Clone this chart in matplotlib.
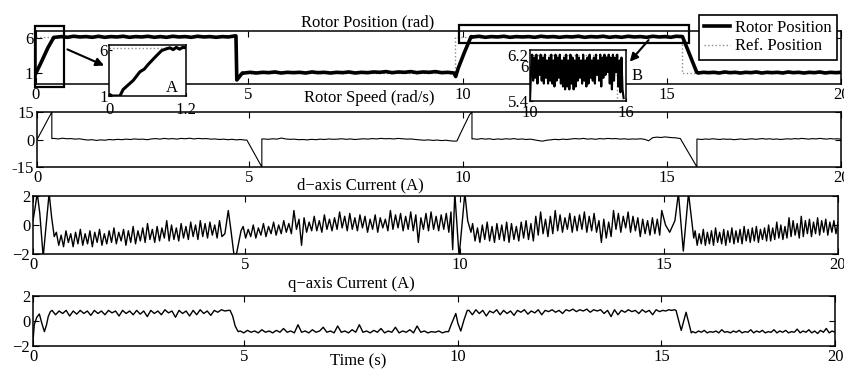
"""Drive test record: rotor position, rotor speed and d/q-axis currents over 20 s."""
import matplotlib.pyplot as plt
import numpy as np

# ---------------------------------------------------------------- data
# Values. Noisy stretches are listed left to right
# and taken as evenly spaced in time between their start and end instants.

# rotor position (rad)
POS_RISE_T = [0.0, 0.12, 0.28, 0.42]
POS_RISE_V = [1.0, 2.5, 4.6, 6.1]
POS_HIGH_1 = [6.1, 6.2, 6.1, 6.25, 6.15, 6.2, 6.1, 6.25, 6.1, 6.2, 6.15, 6.25, 6.1, 6.2, 6.15,
              6.25, 6.1, 6.2, 6.1, 6.25, 6.15, 6.2, 6.1, 6.25, 6.15, 6.2, 6.1, 6.2, 6.15, 6.3]
POS_DROP_T = [4.71, 4.73, 4.86]
POS_DROP_V = [6.3, 0.0, 1.0]
POS_LOW_1 = [1.0, 1.1, 1.0, 1.1, 1.05, 1.15, 1.0, 1.1, 1.05, 1.1, 1.0, 1.15, 1.05, 1.1, 1.0, 1.1,
             1.05, 1.15, 1.0, 1.1, 1.05, 1.15, 1.1, 1.2, 1.05, 1.15, 1.1, 1.2, 1.05, 1.15, 1.1,
             1.2, 1.05, 1.1, 1.0]
POS_UP_T = [9.84, 9.9, 10.05, 10.21]
POS_UP_V = [0.5, 1.7, 4.0, 6.2]
POS_HIGH_2 = [6.15, 6.25, 6.1, 6.2, 6.15, 6.25, 6.1, 6.2, 6.15, 6.2, 6.1, 6.25, 6.15, 6.2, 6.1,
              6.2, 6.15, 6.25, 6.1, 6.2, 6.15, 6.25, 6.1, 6.2, 6.1, 6.25, 6.15, 6.2, 6.1, 6.25,
              6.15, 6.2, 6.1, 6.25, 6.2]
POS_DOWN_T = [15.45, 15.86]
POS_DOWN_V = [6.2, 1.1]
POS_LOW_2 = [1.0, 1.1, 1.05, 1.1, 1.0, 1.15, 1.05, 1.1, 1.0, 1.1, 1.05, 1.15, 1.0, 1.1, 1.05,
             1.1, 1.0, 1.15, 1.05, 1.1, 1.0, 1.1, 1.05, 1.15, 1.0, 1.1, 1.05, 1.1]

# reference position (rad)
REF_T = [0, 4.71, 4.71, 9.83, 9.83, 15.44, 15.44, 20]
REF_V = [6.2, 6.2, 1.0, 1.0, 6.2, 6.2, 1.0, 1.0]

# zoom A: start-up, 0 - 1.2 s
ZOOM_A_T = [0.0, 0.05, 0.17, 0.22, 0.3, 0.38, 0.48, 0.55, 0.61, 0.72, 0.82, 0.9, 0.95, 1.0,
            1.05, 1.1, 1.15, 1.2]
ZOOM_A_V = [1.2, 1.0, 1.0, 1.7, 2.2, 2.7, 3.6, 3.9, 4.4, 5.2, 5.9, 6.1, 6.2, 6.0, 6.25, 6.05,
            6.25, 6.2]
# zoom B: position ripple, 10 - 15.85 s
ZOOM_B = [5.4, 5.9, 6.2, 5.75, 6.15, 5.8, 6.2, 5.7, 6.1, 5.85, 6.2, 5.75, 6.15, 5.7, 6.2, 5.8,
          6.1, 5.7, 6.15, 5.75,
          6.2, 5.7, 6.1, 5.65, 6.2, 5.75, 6.15, 5.8, 6.2, 5.7, 6.1, 5.65, 6.15, 5.6, 6.2, 5.65,
          6.1, 5.6, 6.2, 5.7,
          6.15, 5.6, 6.1, 5.65, 6.2, 5.75, 6.15, 5.8, 6.1, 5.7, 6.2, 5.75, 6.1, 5.65, 6.15, 5.7,
          6.2, 5.8, 6.1, 5.75,
          6.15, 5.7, 6.2, 5.85, 6.1, 5.75, 6.2, 5.65, 6.15, 5.8, 6.2, 5.85, 6.15, 5.9, 6.2, 5.7,
          6.15, 5.6, 6.2, 5.75,
          6.15, 5.9, 6.2, 5.65, 6.1, 5.55, 6.15, 5.6, 5.45]

# rotor speed (rad/s)
SPD_RISE_T = [0.0, 0.03, 0.35, 0.35]
SPD_RISE_V = [0.0, 1.2, 15.0, 0.5]
SPD_FLAT_1 = [0.6, 0.3, 0.7, 0.4, 0.5, 0.2, 0.4, 0.0, -0.3, -0.1, -0.5, -0.2, -0.4, 0.0, -0.2,
              0.1, -0.1, 0.2, 0.0, 0.3, 0.1, 0.2, -0.1, 0.3, 0.5, 0.2, 0.6, 0.3, 0.5, 0.2, 0.6,
              0.4, 0.7, 0.3, 0.6, 0.4, 0.5, 0.2, 0.3, 0.0, 0.2, -0.1, 0.1, -0.2, 0.0, -0.3]
SPD_DROP_T = [4.95, 5.3, 5.3]
SPD_DROP_V = [-0.3, -15.0, 0.3]
SPD_FLAT_2 = [0.3, 0.1, 0.4, 0.2, 0.8, 0.3, 0.1, 0.2, -0.1, 0.0, -0.2, 0.1, -0.1, 0.2, 0.0, 0.3,
              0.1, 0.2, 0.4, 0.1, 0.3, 0.0, 0.2, 0.4, 0.2, 0.5, 0.3, 0.6, 0.4, 0.5, 0.3, 0.6, 0.4,
              0.2, 0.3, 0.0, -0.2, -0.4, -0.2, -0.5, -0.3, -0.6, -0.4, -0.7, -0.9]
SPD_UP_T = [9.86, 9.93, 10.16, 10.22, 10.22]
SPD_UP_V = [-0.8, 2.8, 13.5, 15.0, 0.3]
SPD_FLAT_3 = [0.4, 0.1, 0.5, 0.2, 0.4, 0.0, 0.3, 0.1, 0.4, 0.2, 0.5, 0.1, 0.3, 0.0, 0.2, -0.2,
              -0.6, -0.9, -0.4, -0.2, 0.1, -0.1, 0.2, 0.0, 0.3, 0.5, 0.3, 0.6, 0.2, 0.4, 0.1, 0.5,
              0.3, 0.6, 0.4, 0.5, 0.2, 0.4, 0.1, 0.3, 0.2, 0.4, 0.1, -0.7, 1.0, 1.3, 1.1, 1.4,
              1.2, 1.0, 0.9, 0.6]
SPD_DOWN_T = [15.38, 15.86, 15.86]
SPD_DOWN_V = [0.6, -15.0, 0.2]
SPD_FLAT_4 = [0.2, 0.0, 0.3, 0.1, 0.4, 0.2, 0.0, 0.3, 0.1, 0.2, -0.1, 0.1, 0.3, 0.0, 0.2, 0.4,
              0.1, 0.3, 0.5, 0.2, 0.4, 0.1, 0.3, 0.0, 0.2, 0.4, 0.2, 0.5, 0.3, 0.6, 0.4, 0.2, 0.5,
              0.3, 0.6, 0.4, 0.2, 0.5, 0.3, 0.4, 0.2]

# d-axis current (A)
ID_START_T = [0.0, 0.05, 0.1, 0.16, 0.24, 0.31, 0.38, 0.44, 0.5]
ID_START_V = [0.3, 1.2, 2.2, 0.8, -2.2, 0.0, 2.2, 0.5, -0.8]
ID_BAND_1 = [-0.5, -1.4, -0.7, -1.5, -0.4, -1.2, -0.6, -1.5, -0.5, -1.3, -0.3, -1.4,
             -0.6, -1.3, -0.4, -1.5, -0.5, -1.2, -0.3, -1.4, -0.6, -1.3, -0.4, -1.2,
             -0.2, -1.3, -0.5, -1.1, -0.3, -1.4, -0.4, -1.2, -0.1, -1.3, -0.4, -1.1,
             -0.2, -1.2, 0.1, -1.0, -0.3, -1.2, -0.1, -1.1, -0.2, -0.9, 0.3, -1.1,
             0.0, -1.0, -0.2, -1.1, 0.1, -0.9, -0.1, -1.0, 0.2, -0.8, 0.0, -1.0,
             0.3, -0.8, 0.1, -0.9, 0.2, -0.7, 0.0, -0.9, 0.3, -0.8]
ID_EDGE_1_T = [4.52, 4.6, 4.66, 4.74, 4.8, 4.9]
ID_EDGE_1_V = [-0.6, 1.0, -0.3, -2.2, -1.9, -0.4]
ID_BAND_2 = [-0.1, -0.9, -0.3, -0.8, 0.0, -0.9, -0.2, -0.7, 0.1, -0.8, -0.1, -0.6,
             0.2, -0.7, 0.0, -0.6, 0.3, -0.5, 0.1, -0.6, 1.0, -0.3, 0.4, -1.4,
             0.5, -0.5, 0.2, -0.4, 0.6, -0.4, 0.3, -0.5, 0.7, -0.3, 0.4, -0.4,
             0.5, -0.3, 0.9, -0.2, 0.6, -0.4, 0.8, -0.3, 0.5, -0.4, 0.7, -0.2,
             0.6, -0.5, 0.4, -0.3, 0.7, -0.5, 0.5, -0.2, 0.4, -0.4, 1.0, -0.3,
             0.7, -0.2, 0.8, -0.4, 0.6, -0.3, 0.9, -0.4, 0.7, -1.2, 0.5, -0.3,
             0.8, -0.4, 0.9, -0.3, 0.6, -0.4, 0.7, -0.3, 0.8, -0.5]
ID_EDGE_2_T = [9.8, 9.84, 9.89, 9.99, 10.13, 10.2, 10.28]
ID_EDGE_2_V = [0.9, -1.7, 2.2, -2.2, 2.2, 0.3, -0.5]
ID_BAND_3 = [0.1, -1.1, -0.2, -1.2, 0.0, -1.0, 0.2, -1.1, -0.1, -1.2, 0.1, -1.0,
             0.0, -1.1, 0.2, -1.2, 0.1, -1.0, -0.1, -1.1, 0.2, -0.9, 0.3, -1.0,
             0.1, -1.1, 0.6, -0.7, 0.9, -0.6, 0.4, -0.8, 0.6, -0.6, 1.0, -0.4,
             0.7, -0.5, 0.5, -0.3, 0.8, -0.5, 0.6, -0.4, 0.7, -0.3, 0.9, -0.5,
             0.6, -0.4, 0.8, -0.5, 0.3, -1.2, 0.4, -0.9, 0.2, -0.8, 1.0, -0.3,
             0.8, -0.5, 0.6, -0.2, 0.9, -0.5, 0.6, -0.4, 0.5, -0.8, 0.4, -0.6,
             0.3, -0.7, 0.5, -0.6, 0.4, -0.7]
ID_EDGE_3_T = [14.95, 15.05, 15.17, 15.32, 15.42, 15.56, 15.71, 15.86]
ID_EDGE_3_V = [1.0, 0.0, -0.5, 0.3, 2.2, -1.8, 2.2, -0.9]
ID_BAND_4 = [-0.4, -1.4, -0.6, -1.3, -0.3, -1.4, -0.5, -1.3, -0.4, -1.4, -0.2, -1.2,
             -0.5, -1.3, -0.3, -1.4, -0.4, -1.2, -0.2, -1.3, -0.4, -1.2, -0.3, -1.3,
             -0.1, -1.1, -0.3, -1.2, -0.2, -1.1, -0.1, -1.2, -0.3, -1.0, -0.2, -1.1,
             0.0, -1.1, -0.2, -1.0, 0.2, -0.9, 0.0, -1.0, -0.1, -0.9, 0.5, -0.8,
             0.3, -0.7, 0.1, -0.9, 0.6, -0.8, 0.3, -0.6, 0.4, -0.8, 0.2, -0.6,
             0.5, -0.7, 0.3, -0.5, 0.4, -0.7, 0.2, -0.5, 0.3, -0.6, 0.2]

# q-axis current (A)
IQ_START_T = [0.0, 0.03, 0.09, 0.15, 0.21, 0.27, 0.32, 0.36, 0.41]
IQ_START_V = [-1.65, -0.3, 0.3, 0.56, -0.2, -0.85, -0.3, 0.35, 0.75]
IQ_HIGH_1 = [0.85, 0.5, 0.8, 0.6, 0.85, 0.4, 0.8, 0.55, 0.85, 0.6, 0.8, 0.45, 0.85,
             0.6, 0.8, 0.5, 0.85, 0.65, 0.8, 0.4, 0.85, 0.6, 0.8, 0.5, 0.85,
             0.55, 0.8, 0.35, 0.85, 0.6, 0.8, 0.5, 0.9, 0.65, 0.8, 0.3, 0.85,
             0.6, 0.8, 0.4, 0.85, 0.5, 0.9, 0.6, 0.8, 0.45, 0.85, 0.7, 0.9, 0.8, 0.85]
IQ_DROP_T = [4.66, 4.72, 4.78, 4.85]
IQ_DROP_V = [0.85, 0.4, -0.4, -0.85]
IQ_LOW_1 = [-0.8, -0.95, -0.75, -0.9, -0.8, -0.95, -0.7, -0.9, -0.8, -0.95, -0.75, -0.9, -0.6, -0.9,
            -0.8, -0.95, -0.3, -0.9, -0.8, -0.95, -0.7, -0.9, -0.8, -0.5, -0.9, -0.8,
            -0.95, -0.4, -0.9, -0.8, -0.95, -0.7, -0.9, -0.3, -0.9, -0.8, -0.95, -0.75,
            -0.9, -0.6, -0.95, -0.8, -0.9, -0.5, -0.95, -0.8, -0.9, -0.7, -0.95, -0.4,
            -0.9, -0.8, -0.95, -0.85, -0.9, -0.8, -0.95, -0.85]
IQ_RISE_T = [9.78, 9.84, 9.9, 9.95, 10.0, 10.07, 10.15, 10.23]
IQ_RISE_V = [-0.85, -0.3, 0.2, 0.6, -0.2, -0.8, 0.1, 0.85]
IQ_HIGH_2 = [0.85, 0.5, 0.9, 0.6, 0.85, 0.4, 0.8, 0.65, 0.9, 0.5, 0.85, 0.6, 0.8,
             0.45, 0.85, 0.7, 0.9, 0.55, 0.8, 0.65, 0.9, 0.5, 0.85, 0.75, 0.9,
             0.7, 0.85, 0.6, 0.9, 0.8, 0.95, 0.75, 0.9, 0.8, 0.95, 0.7, 0.9,
             0.8, 0.9, 0.6, 0.85, 0.35, 0.9, 0.5, 0.85, 0.7, 0.9, 0.75, 0.85,
             0.6, 0.9, 0.7, 0.85, 0.5, 0.9, 0.75, 0.85, 0.8, 0.9, 0.85, 0.9]
IQ_FALL_T = [15.42, 15.57, 15.71, 15.86]
IQ_FALL_V = [0.85, -0.75, 0.7, -0.95]
IQ_LOW_2 = [-0.85, -0.95, -0.8, -0.9, -0.75, -0.95, -0.85, -0.9, -0.8, -0.95, -0.7, -0.9, -0.85, -0.95,
            -0.8, -0.9, -0.75, -0.95, -0.85, -0.9, -0.7, -0.95, -0.8, -0.9, -0.75, -0.95,
            -0.85, -0.9, -0.7, -0.95, -0.8, -0.9, -0.75, -0.95, -0.85, -0.9, -0.65, -0.95,
            -0.8, -0.9, -0.7, -0.95, -0.8, -1.0, -0.75, -0.9, -0.6, -0.95, -0.8, -0.9]

TIME_TICKS = [0, 5, 10, 15, 20]
# the time axis of the source figure is not evenly spaced: pixel offsets of its ticks
TIME_TICK_PX = [0, 212, 426, 630, 804]

W, H = 844, 370


def even(t0, t1, vals):
    return np.linspace(t0, t1, len(vals)), vals


def series(*parts):
    t = np.concatenate([np.asarray(p[0], dtype=float) for p in parts])
    v = np.concatenate([np.asarray(p[1], dtype=float) for p in parts])
    return t, v


def time_fwd(t):
    t = np.asarray(t, dtype=float)
    out = np.interp(t, TIME_TICKS, TIME_TICK_PX)
    out = np.where(t < 0, t * 212 / 5, out)
    return np.where(t > 20, 804 + (t - 20) * 174 / 5, out)


def time_inv(p):
    p = np.asarray(p, dtype=float)
    out = np.interp(p, TIME_TICK_PX, TIME_TICKS)
    out = np.where(p < 0, p * 5 / 212, out)
    return np.where(p > 804, 20 + (p - 804) * 5 / 174, out)


def box(left, top, right, bottom):
    """Axes rectangle from pixel edges of the 844x370 canvas."""
    return [left / W, 1 - bottom / H, (right - left) / W, (bottom - top) / H]


def px(x, y):
    return x / W, 1 - y / H


def style(ax, ticklen=4):
    ax.tick_params(direction="in", top=True, right=True, length=ticklen, width=0.8,
                   labelsize=12, pad=2)
    for s in ax.spines.values():
        s.set_linewidth(1.1)


plt.rcParams["font.family"] = ["Liberation Serif", "DejaVu Serif"]
plt.rcParams["font.size"] = 12

pos_t, pos_v = series((POS_RISE_T, POS_RISE_V), even(0.45, 4.68, POS_HIGH_1),
                      (POS_DROP_T, POS_DROP_V), even(4.9, 9.8, POS_LOW_1),
                      (POS_UP_T, POS_UP_V), even(10.25, 15.42, POS_HIGH_2),
                      (POS_DOWN_T, POS_DOWN_V), even(15.9, 20, POS_LOW_2))
spd_t, spd_v = series((SPD_RISE_T, SPD_RISE_V), even(0.4, 4.9, SPD_FLAT_1),
                      (SPD_DROP_T, SPD_DROP_V), even(5.35, 9.8, SPD_FLAT_2),
                      (SPD_UP_T, SPD_UP_V), even(10.25, 15.35, SPD_FLAT_3),
                      (SPD_DOWN_T, SPD_DOWN_V), even(15.9, 20, SPD_FLAT_4))
id_t, id_v = series((ID_START_T, ID_START_V), even(0.55, 4.45, ID_BAND_1),
                    (ID_EDGE_1_T, ID_EDGE_1_V), even(4.95, 9.75, ID_BAND_2),
                    (ID_EDGE_2_T, ID_EDGE_2_V), even(10.32, 14.9, ID_BAND_3),
                    (ID_EDGE_3_T, ID_EDGE_3_V), even(15.9, 20, ID_BAND_4))
iq_t, iq_v = series((IQ_START_T, IQ_START_V), even(0.45, 4.62, IQ_HIGH_1),
                    (IQ_DROP_T, IQ_DROP_V), even(4.9, 9.72, IQ_LOW_1),
                    (IQ_RISE_T, IQ_RISE_V), even(10.27, 15.38, IQ_HIGH_2),
                    (IQ_FALL_T, IQ_FALL_V), even(15.9, 20, IQ_LOW_2))

fig = plt.figure(figsize=(W / 100, H / 100), dpi=100)
ax1 = fig.add_axes(box(36, 31, 841, 84))
ax2 = fig.add_axes(box(37, 112, 841, 167))
ax3 = fig.add_axes(box(33, 196, 838, 254))
ax4 = fig.add_axes(box(33, 296, 835, 346))

for ax in (ax1, ax2, ax3, ax4):
    ax.set_xscale("function", functions=(time_fwd, time_inv))
    ax.set_xlim(0, 20)
    ax.set_xticks(TIME_TICKS)
    ax.minorticks_off()
    style(ax)

# rotor position
ref_line, = ax1.plot(REF_T, REF_V, ls=":", color="0.55", lw=1.0)
pos_line, = ax1.plot(pos_t, pos_v, color="black", lw=2.6)
ax1.set_ylim(-0.57, 7.0)
ax1.set_yticks([1, 6])
ax1.add_patch(plt.Rectangle((-0.03, -1.0), 0.69, 8.7, fill=False, lw=1.6, ec="black",
                            clip_on=False, zorder=5))
ax1.add_patch(plt.Rectangle((9.91, 5.29), 5.72, 2.57, fill=False, lw=1.6, ec="black",
                            clip_on=False, zorder=5))
leg = ax1.legend([pos_line, ref_line], ["Rotor Position", "Ref. Position"],
                 loc="upper right", bbox_to_anchor=px(837, 15), bbox_transform=fig.transFigure,
                 borderaxespad=0, fancybox=False, framealpha=1, edgecolor="black",
                 handlelength=1.6, handletextpad=0.3, borderpad=0.3, labelspacing=0.15,
                 fontsize=12)
leg.get_frame().set_linewidth(1.2)
leg.set_zorder(10)

# rotor speed
ax2.plot(spd_t, spd_v, color="black", lw=0.8)
ax2.set_ylim(-15, 15)
ax2.set_yticks([15, 0, -15])
ax2.set_yticklabels(["15", "0", "-15"])

# currents
ax3.plot(id_t, id_v, color="black", lw=1.0)
ax4.plot(iq_t, iq_v, color="black", lw=1.0)
for ax in (ax3, ax4):
    ax.set_ylim(-2, 2)
    ax.set_yticks([2, 0, -2])

# panel titles, placed as in the source figure
for (x, y), label in [((368, 22), "Rotor Position (rad)"), ((369, 98), "Rotor Speed (rad/s)"),
                      ((360, 185), "d\u2212axis Current (A)"),
                      ((351, 284), "q\u2212axis Current (A)"), ((358, 361), "Time (s)")]:
    fig.text(*px(x, y), label, ha="center", va="center", fontsize=12)

# zoom A
ax_a = fig.add_axes(box(109, 45, 186, 96), zorder=6)
ax_a.plot(REF_T, REF_V, ls=":", color="0.55", lw=1.0)
ax_a.plot(ZOOM_A_T, ZOOM_A_V, color="black", lw=2.2)
ax_a.set_xlim(0, 1.2)
ax_a.set_ylim(1, 6.5)
ax_a.set_xticks([0, 1.2])
ax_a.set_xticklabels(["0", "1.2"])
ax_a.set_yticks([1, 6])
style(ax_a, ticklen=2)
ax_a.tick_params(top=False, right=False, pad=1)
ax_a.tick_params(axis="x", pad=4)
ax_a.text(0.82, 0.0, "A", transform=ax_a.transAxes, ha="center", va="bottom", fontsize=12)

# zoom B
ax_b = fig.add_axes(box(530, 50, 626, 101), zorder=6)
ax_b.plot(REF_T, REF_V, ls=":", color="0.55", lw=1.0)
ax_b.plot(*even(10, 15.85, ZOOM_B), color="black", lw=1.5)
ax_b.set_xlim(10, 16)
ax_b.set_ylim(5.4, 6.28)
ax_b.set_xticks([10, 16])
ax_b.set_yticks([5.4, 6, 6.2])
ax_b.set_yticklabels(["5.4", "6", "6.2"])
style(ax_b, ticklen=2)
ax_b.tick_params(top=False, right=False, pad=1)
ax_b.tick_params(axis="x", pad=3)
ax_b.text(1.06, 0.5, "B", transform=ax_b.transAxes, ha="left", va="center", fontsize=12)

# arrows from the marked windows to the zooms
arrow = dict(arrowstyle="-|>", lw=1.5, color="black", mutation_scale=12)
ax1.annotate("", xy=(-0.03, 0.575), xycoords=ax_a.transAxes, xytext=(0.68, 4.53),
             textcoords="data", arrowprops=arrow, zorder=7)
ax1.annotate("", xy=(1.02, 0.73), xycoords=ax_b.transAxes, xytext=(14.6, 6.0),
             textcoords="data", arrowprops=arrow, zorder=7)

fig.savefig("out.png", dpi=100)
